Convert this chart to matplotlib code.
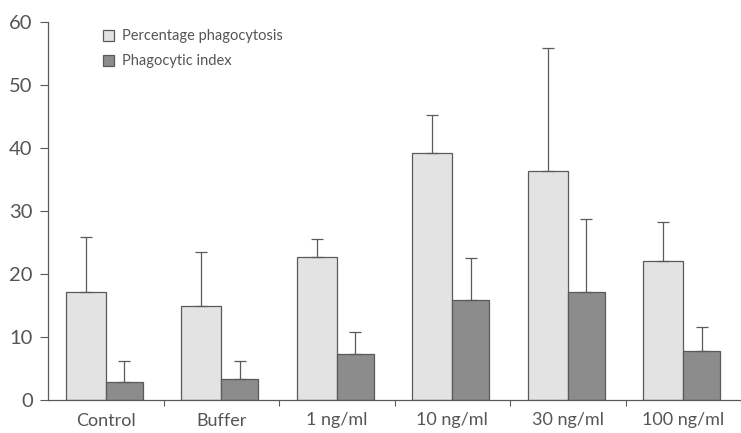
import matplotlib
matplotlib.use("Agg")
import matplotlib.pyplot as plt
import numpy as np

plt.rcParams['font.family'] = ['Lato', 'DejaVu Sans']

categories = ["Control", "Buffer", "1 ng/ml", "10 ng/ml", "30 ng/ml", "100 ng/ml"]
pct_phago = [17.1, 14.9, 22.7, 39.2, 36.4, 22.0]
pct_phago_err = [8.7, 8.6, 2.8, 6.0, 19.4, 6.3]
phago_index = [2.9, 3.4, 7.3, 15.8, 17.1, 7.7]
phago_index_err = [3.3, 2.8, 3.5, 6.7, 11.7, 3.9]

light = "#e3e3e3"
dark = "#8c8c8c"
edge = "#5a5a5a"
txt = "#555555"

fig = plt.figure(figsize=(7.41, 4.33), dpi=100)
ax = fig.add_axes([48 / 741, 33 / 433, 693 / 741, 378 / 433])

x = np.arange(len(categories)) + 0.5
w1 = 0.345
w2 = 0.32
err_kw = dict(ecolor=edge, elinewidth=0.9, capsize=4, capthick=0.9)
ax.bar(x - w1 / 2, pct_phago, w1, color=light, edgecolor=edge, linewidth=0.9,
       label="Percentage phagocytosis",
       yerr=[np.zeros(len(x)), pct_phago_err], error_kw=err_kw)
ax.bar(x + w2 / 2, phago_index, w2, color=dark, edgecolor=edge, linewidth=0.9,
       label="Phagocytic index",
       yerr=[np.zeros(len(x)), phago_index_err], error_kw=err_kw)

ax.set_xlim(0, 6)
ax.set_ylim(0, 60)
ax.set_yticks(range(0, 61, 10))
ax.set_xticks(np.arange(1, 6))
ax.set_xticklabels([])
ax.set_xticks(x, minor=True)
ax.set_xticklabels(categories, minor=True)
ax.tick_params(axis="x", which="minor", length=0, pad=9, labelsize=13, colors=txt)
ax.tick_params(axis="x", which="major", length=4, color=edge, width=0.8)
ax.tick_params(axis="y", length=6, color=edge, width=0.8, labelsize=14.5, labelcolor=txt, pad=5)

for s in ["top", "right"]:
    ax.spines[s].set_visible(False)
for s in ["left", "bottom"]:
    ax.spines[s].set_color(edge)
    ax.spines[s].set_linewidth(0.9)

leg = ax.legend(loc="upper left", bbox_to_anchor=(0.06, 1.015), frameon=False,
                handlelength=0.75, handleheight=0.8, handletextpad=0.55,
                labelspacing=0.75, prop={"size": 10.5})
for t in leg.get_texts():
    t.set_color(txt)

fig.savefig("out.png", dpi=100)
